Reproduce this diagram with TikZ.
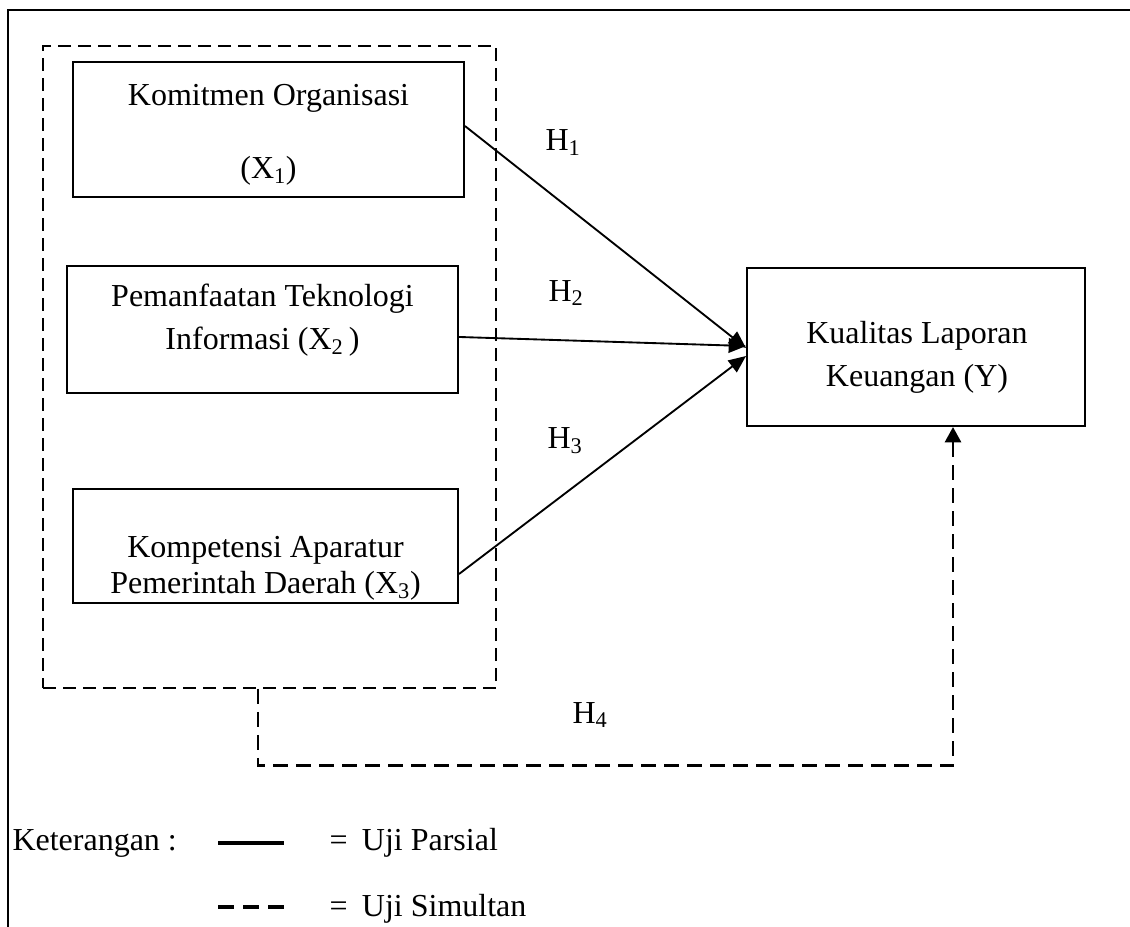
\documentclass[tikz,border=0pt]{standalone}
\usepackage{fontspec}
\setmainfont{Liberation Serif}
\usetikzlibrary{arrows.meta}
\tikzset{every picture/.style={line width=0.75pt}}

\begin{document}
\begin{tikzpicture}[x=0.75pt,y=0.75pt,yscale=-1,xscale=1,
    varbox/.style={draw, line width=1.5pt, inner sep=0pt},
    lbl/.style={inner sep=0.75pt, align=center, font=\fontsize{24}{32.25}\selectfont},
    parsial/.style={line width=1.4pt, -{Triangle[length=13pt,width=11pt]}},
    simultan/.style={line width=2.1pt, dash pattern={on 11.25pt off 6pt}}]
    \useasboundingbox (0,0) rectangle (1130,926);

    %Frame
    \draw [line width=1.6pt] (1135,10) -- (8,10) -- (8,930) ;
    %Dashed group
    \node [draw, line width=1.3pt, dash pattern={on 9.75pt off 5.25pt}, minimum width=339.75pt, minimum height=481.5pt] (grp) at (269.5,367) {};

    %Shape: Boxes
    \node [varbox, minimum width=293.25pt, minimum height=101.25pt] (kom) at (268.5,129.5) {};
    \node [varbox, minimum width=293.25pt, minimum height=95.25pt] (tek) at (262.5,329.5) {};
    \node [varbox, minimum width=288.75pt, minimum height=85.5pt] (apr) at (265.5,546) {};
    \node [varbox, minimum width=253.5pt, minimum height=118.5pt] (klk) at (916,347) {};

    % Text Node
    \node [lbl] (komt) at (268.5,135) {Komitmen Organisasi\\[22.5pt](X\textsubscript{1})};
    % Text Node
    \node [lbl] (tekt) at (262.5,320) {Pemanfaatan Teknologi\\Informasi (X\textsubscript{2}\,)};
    % Text Node
    \node [lbl, font=\fontsize{24}{27}\selectfont] (aprt) at (265.5,568) {Kompetensi Aparatur\\Pemerintah Daerah (X\textsubscript{3})};
    % Text Node
    \node [lbl] (klkt) at (917,357) {Kualitas Laporan\\Keuangan (Y)};

    %Straight Lines
    \draw [parsial] ([yshift=-2.6pt]kom.east) -- ([yshift=0.75pt]klk.west) ;
    \draw [parsial] ([yshift=5.6pt]tek.east) -- ([yshift=-0.75pt]klk.west) ;
    \draw [parsial] ([yshift=21pt]apr.east) -- ([yshift=6.75pt]klk.west) ;

    %Dashed connector
    \coordinate (h4a) at ([xshift=-8.6pt]grp.south) ;
    \draw [simultan, -{Triangle[length=11.5pt,width=12pt]}] (h4a) -- ++(0,77) -| ([xshift=27.75pt]klk.south) ;

    % Text Node
    \node [lbl] (h1) at (563,143) {H\textsubscript{1}};
    \node [lbl] (h2) at (566,293) {H\textsubscript{2}};
    \node [lbl] (h3) at (565,441) {H\textsubscript{3}};
    \node [lbl] (h4) at (590,715) {H\textsubscript{4}};

    %Legend
    \node [lbl, anchor=west] (ket) at (11,843) {Keterangan :};
    \coordinate (lsa) at (218,843) ;
    \coordinate (lsb) at (284,843) ;
    \draw [line width=3pt] (lsa) -- (lsb) ;
    \coordinate (lda) at (218,907) ;
    \coordinate (ldb) at (284,907) ;
    \draw [line width=2.6pt, dash pattern={on 12pt off 6.75pt}] (lda) -- (ldb) ;
    \node [lbl, anchor=west] (parsialt) at (328,843) {=\hspace{0.45em}Uji Parsial};
    \node [lbl, anchor=west] (simultant) at (328,909) {=\hspace{0.45em}Uji Simultan};

\end{tikzpicture}
\end{document}
